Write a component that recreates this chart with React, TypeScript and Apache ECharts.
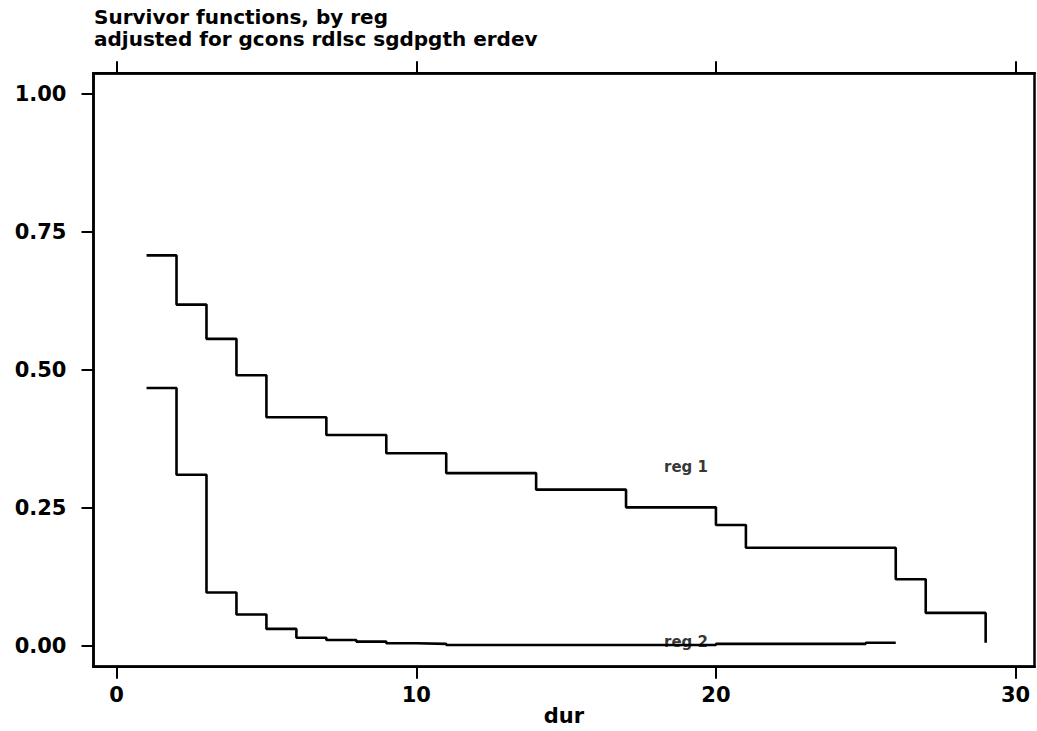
import React, { useEffect, useRef } from "react";
import * as echarts from "echarts";

const titleLines = ["Survivor functions, by reg", "adjusted for gcons rdlsc sgdpgth erdev"];
const xAxisName = "dur";
const xTickValues = [0, 10, 20, 30];
const yTickValues = [0, 0.25, 0.5, 0.75, 1];

const reg1Dur = [1, 2, 3, 4, 5, 7, 9, 11, 14, 17, 20, 21, 26, 27, 29];
const reg1Surv = [0.707, 0.618, 0.556, 0.49, 0.414, 0.382, 0.349, 0.313, 0.283, 0.251, 0.219, 0.178, 0.121, 0.06, 0.006];

const reg2Dur = [1, 2, 3, 4, 5, 6, 7, 8, 9, 10, 11, 20, 25, 26];
const reg2Surv = [0.467, 0.31, 0.097, 0.057, 0.031, 0.015, 0.011, 0.008, 0.005, 0.004, 0.002, 0.004, 0.006, 0.006];

const curveLabels = ["reg 1", "reg 2"];
const curveLabelX = [19, 19];
const curveLabelY = [0.324, 0.008];

const FONT = "'DejaVu Sans', sans-serif";

export default function App() {
  const ref = useRef<HTMLDivElement>(null);
  useEffect(() => {
    document.body.style.margin = "0";
    const chart = echarts.init(ref.current!, null, { renderer: "svg" });
    const zip = (xs: number[], ys: number[]) => xs.map((x, i) => [x, ys[i]]);
    const lineStyle = { color: "#000", width: 2.6 };
    chart.setOption({
      animation: false,
      backgroundColor: "#fff",
      graphic: titleLines.map((t, i) => ({
        type: "text",
        left: 94,
        top: 7 + i * 22,
        style: { text: t, fontFamily: FONT, fontWeight: "bold", fontSize: 20, fill: "#000" },
      })),
      grid: {
        left: 93.5,
        right: 2.5,
        top: 73.3,
        bottom: 64.3,
        show: true,
        borderColor: "#000",
        borderWidth: 2.5,
        backgroundColor: "transparent",
        containLabel: false,
        outerBoundsMode: "none",
      },
      xAxis: [
        {
          type: "value",
          min: -0.77,
          max: 30.63,
          name: xAxisName,
          nameLocation: "middle",
          nameGap: 39,
          nameMoveOverlap: false,
          nameTextStyle: { fontFamily: FONT, fontWeight: "bold", fontSize: 21, color: "#000" },
          axisLine: { show: true, onZero: false, lineStyle: { color: "#000", width: 2.5 } },
          axisTick: { show: true, length: 12, lineStyle: { color: "#000", width: 2 }, customValues: xTickValues },
          axisLabel: {
            show: true,
            margin: 18,
            customValues: xTickValues,
            fontFamily: FONT,
            fontWeight: "bold",
            fontSize: 21,
            color: "#000",
          },
          splitLine: { show: false },
        },
        {
          type: "value",
          position: "top",
          min: -0.77,
          max: 30.63,
          axisLine: { show: true, onZero: false, lineStyle: { color: "#000", width: 2.5 } },
          axisTick: { show: true, length: 12, lineStyle: { color: "#000", width: 2 }, customValues: xTickValues },
          axisLabel: { show: false },
          splitLine: { show: false },
        },
      ],
      yAxis: {
        type: "value",
        min: -0.0374,
        max: 1.0366,
        axisLine: { show: true, onZero: false, lineStyle: { color: "#000", width: 2.5 } },
        axisTick: { show: true, length: 12, lineStyle: { color: "#000", width: 2 }, customValues: yTickValues },
        axisLabel: {
          show: true,
          margin: 27,
          customValues: yTickValues,
          formatter: (v: number) => v.toFixed(2),
          fontFamily: FONT,
          fontWeight: "bold",
          fontSize: 21,
          color: "#000",
        },
        splitLine: { show: false },
      },
      series: [
        {
          name: "reg 1",
          type: "line",
          step: "end",
          data: zip(reg1Dur, reg1Surv),
          showSymbol: false,
          symbol: "none",
          lineStyle,
          itemStyle: { color: "#000" },
        },
        {
          name: "reg 2",
          type: "line",
          step: "end",
          data: zip(reg2Dur, reg2Surv),
          showSymbol: false,
          symbol: "none",
          lineStyle,
          itemStyle: { color: "#000" },
        },
        {
          type: "scatter",
          symbolSize: 0,
          itemStyle: { color: "#000" },
          data: curveLabels.map((n, i) => ({ name: n, value: [curveLabelX[i], curveLabelY[i]] })),
          label: {
            show: true,
            position: "inside",
            formatter: (p: any) => p.name,
            fontFamily: FONT,
            fontWeight: "bold",
            fontSize: 15,
            color: "#000",
            textBorderWidth: 0,
          },
          silent: true,
        },
      ],
    });
    return () => chart.dispose();
  }, []);
  return <div ref={ref} style={{ width: 1037, height: 731 }} />;
}
